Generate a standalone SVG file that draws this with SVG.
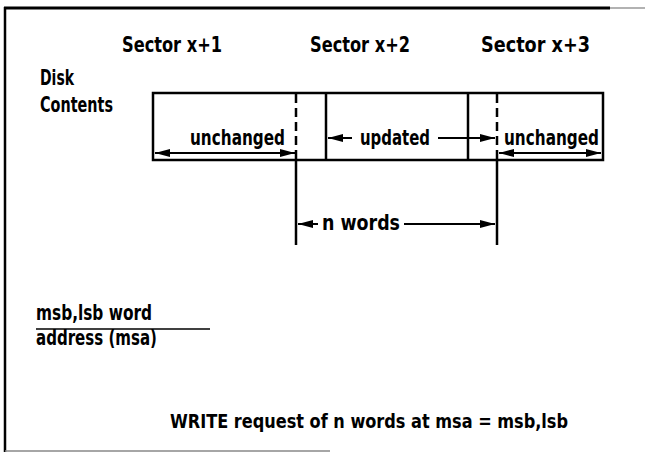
<svg xmlns="http://www.w3.org/2000/svg" width="645" height="454" viewBox="0 0 645 454">
<defs>
<style>
.t{font-family:"Liberation Sans Narrow","DejaVu Sans Condensed","Liberation Sans",sans-serif;font-weight:bold;font-size:22px;fill:#000}
.cap{font-size:20px}
.ln{stroke:#000;stroke-width:2.5;fill:none}
.ar{stroke:#000;stroke-width:2;fill:none;marker-end:url(#ah)}
.dash{stroke:#000;stroke-width:2.5;stroke-dasharray:9,5;fill:none}
</style>
<marker id="ah" viewBox="0 0 15 8" refX="15" refY="4" markerWidth="15" markerHeight="8" markerUnits="userSpaceOnUse" orient="auto">
<path d="M0,0 L15,4 L0,8 Z" fill="#000"/>
</marker>
</defs>
<rect width="645" height="454" fill="#fff"/>
<g id="frame">
<line x1="4" y1="8" x2="610" y2="8" stroke="#000" stroke-width="3"/>
<line x1="610" y1="8" x2="645" y2="8" stroke="#999" stroke-width="1.5"/>
<line x1="5" y1="7" x2="5" y2="452" stroke="#000" stroke-width="2.5"/>
<line x1="5" y1="451" x2="330" y2="451" stroke="#888" stroke-width="1.5"/>
</g>
<g id="sectors">
<text class="t" x="122" y="52" textLength="100" lengthAdjust="spacingAndGlyphs">Sector x+1</text>
<text class="t" x="310" y="52" textLength="100" lengthAdjust="spacingAndGlyphs">Sector x+2</text>
<text class="t" x="481" y="52" textLength="109" lengthAdjust="spacingAndGlyphs">Sector x+3</text>
</g>
<g id="disk-label">
<text class="t" x="40" y="85" textLength="34" lengthAdjust="spacingAndGlyphs">Disk</text>
<text class="t" x="40" y="112" textLength="73" lengthAdjust="spacingAndGlyphs">Contents</text>
</g>
<g id="disk-box">
<rect x="153" y="93" width="450" height="67" class="ln"/>
<line x1="326" y1="93" x2="326" y2="160" class="ln"/>
<line x1="468" y1="93" x2="468" y2="160" class="ln"/>
<line x1="296" y1="94" x2="296" y2="160" class="dash"/>
<line x1="497" y1="94" x2="497" y2="160" class="dash"/>
<text class="t" x="190" y="145" textLength="95" lengthAdjust="spacingAndGlyphs">unchanged</text>
<text class="t" x="360" y="145" textLength="70" lengthAdjust="spacingAndGlyphs">updated</text>
<text class="t" x="504" y="145" textLength="95" lengthAdjust="spacingAndGlyphs">unchanged</text>
</g>
<g id="msa-label">
<text class="t" x="36" y="320" textLength="116" lengthAdjust="spacingAndGlyphs">msb,lsb word</text>
<line x1="36" y1="329" x2="210" y2="329" stroke="#000" stroke-width="1.5"/>
<text class="t" x="36" y="345" textLength="121" lengthAdjust="spacingAndGlyphs">address (msa)</text>
</g>
<g id="caption">
<text class="t cap" x="170" y="428" textLength="398" lengthAdjust="spacingAndGlyphs">WRITE request of n words at msa = msb,lsb</text>
</g>
<g id="nwords">
<text class="t" x="322" y="230" textLength="78" lengthAdjust="spacingAndGlyphs">n words</text>
</g>
<g id="connectors">
<line x1="296" y1="160" x2="296" y2="245" class="ln"/>
<line x1="497" y1="160" x2="497" y2="245" class="ln"/>
<line x1="225" y1="153" x2="155" y2="153" class="ar"/>
<line x1="225" y1="153" x2="295" y2="153" class="ar"/>
<line x1="550" y1="153" x2="499" y2="153" class="ar"/>
<line x1="550" y1="153" x2="601" y2="153" class="ar"/>
<line x1="352" y1="138" x2="328" y2="138" class="ar"/>
<line x1="438" y1="138" x2="495" y2="138" class="ar"/>
<line x1="318" y1="224" x2="298" y2="224" class="ar"/>
<line x1="404" y1="224" x2="495" y2="224" class="ar"/>
</g>
</svg>
